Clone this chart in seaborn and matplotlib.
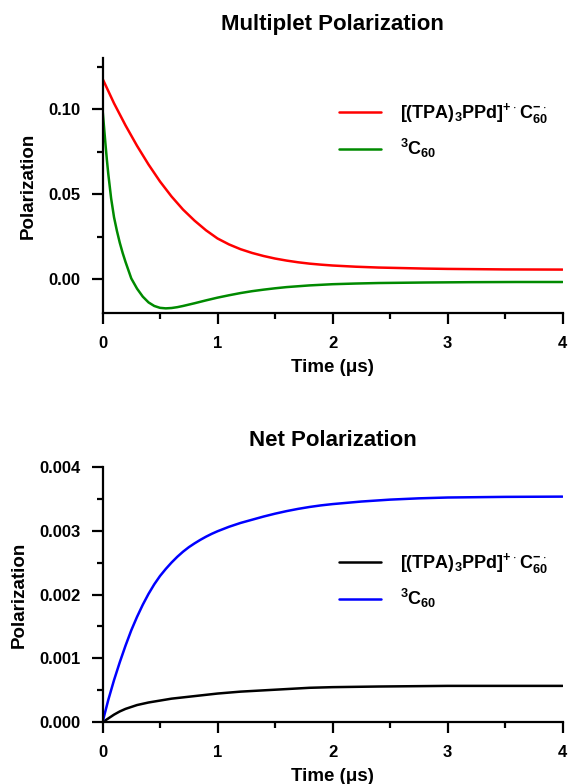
import numpy as np
import pandas as pd
import matplotlib
matplotlib.use('Agg')
import matplotlib.pyplot as plt
import seaborn as sns
from matplotlib.ticker import MultipleLocator, FormatStrFormatter

# Dati: polarizzazione multipletto
t_red = [0, 0.1, 0.2, 0.3, 0.4, 0.5, 0.6, 0.7, 0.8, 0.9, 1.0, 1.1, 1.2, 1.3, 1.4, 1.5, 1.6, 1.7, 1.8, 1.9,
         2.0, 2.2, 2.4, 2.6, 2.8, 3.0, 3.5, 4.0]
pol_red = [0.118, 0.1035, 0.0905, 0.0785, 0.0675, 0.0575, 0.0487, 0.0410, 0.0345, 0.0288, 0.0240, 0.0205,
           0.0177, 0.0155, 0.0137, 0.0122, 0.0110, 0.0100, 0.0092, 0.0086, 0.0081, 0.0074, 0.0069, 0.0066,
           0.0063, 0.0061, 0.0058, 0.0057]

t_green = [0, 0.0125, 0.025, 0.0375, 0.05, 0.075, 0.1, 0.125, 0.15, 0.175, 0.2, 0.25, 0.3, 0.35, 0.4, 0.45,
           0.5, 0.55, 0.6, 0.65, 0.7, 0.8, 0.9, 1.0, 1.1, 1.2, 1.3, 1.4, 1.5, 1.6, 1.8, 2.0, 2.2, 2.4, 2.8,
           3.2, 3.6, 4.0]
pol_green = [0.100, 0.090, 0.080, 0.0705, 0.062, 0.0475, 0.0365, 0.0285, 0.0215, 0.0155, 0.0102, 0.0005,
             -0.0055, -0.0102, -0.0136, -0.0157, -0.0168, -0.0171, -0.0169, -0.0164, -0.0157, -0.0141,
             -0.0124, -0.0108, -0.0094, -0.0081, -0.0070, -0.0061, -0.0053, -0.0046, -0.0036, -0.0029,
             -0.0025, -0.0022, -0.0019, -0.0017, -0.0016, -0.0016]

# Dati: polarizzazione netta
t_black = [0, 0.05, 0.1, 0.15, 0.2, 0.3, 0.4, 0.5, 0.6, 0.7, 0.8, 0.9, 1.0, 1.2, 1.4, 1.6, 1.8, 2.0, 2.4,
           3.0, 4.0]
pol_black = [0, 0.00006, 0.00012, 0.00017, 0.00021, 0.00027, 0.00031, 0.00034, 0.00037, 0.00039, 0.00041,
             0.00043, 0.00045, 0.00048, 0.00050, 0.00052, 0.00054, 0.00055, 0.00056, 0.00057, 0.00057]

t_blue = [0, 0.05, 0.1, 0.15, 0.2, 0.25, 0.3, 0.35, 0.4, 0.45, 0.5, 0.55, 0.6, 0.65, 0.7, 0.75, 0.8, 0.85,
          0.9, 0.95, 1.0, 1.1, 1.2, 1.3, 1.4, 1.5, 1.6, 1.7, 1.8, 1.9, 2.0, 2.25, 2.5, 2.75, 3.0, 3.5, 4.0]
pol_blue = [0, 0.00035, 0.00066, 0.00094, 0.00120, 0.00144, 0.00165, 0.00184, 0.00201, 0.00216, 0.00229,
            0.00240, 0.00250, 0.00259, 0.00267, 0.00274, 0.00280, 0.002855, 0.002905, 0.00295, 0.00299,
            0.00306, 0.00312, 0.00317, 0.00322, 0.003265, 0.003305, 0.00334, 0.00337, 0.003395, 0.003415,
            0.003455, 0.003485, 0.003505, 0.003518, 0.003528, 0.003532]

label_rp = r'[(TPA)$_3$PPd]$^{+\cdot}$C$_{60}^{-\cdot}$'
label_c60 = r'$^3$C$_{60}$'

sns.set_style('ticks')
plt.rcParams['font.family'] = ['Liberation Sans', 'DejaVu Sans']
plt.rcParams['font.weight'] = 'bold'
plt.rcParams['axes.labelweight'] = 'bold'
plt.rcParams['axes.titleweight'] = 'bold'
plt.rcParams['text.color'] = 'black'
plt.rcParams['axes.labelcolor'] = 'black'
plt.rcParams['axes.edgecolor'] = 'black'
plt.rcParams['xtick.color'] = 'black'
plt.rcParams['ytick.color'] = 'black'
plt.rcParams['mathtext.fontset'] = 'custom'
plt.rcParams['mathtext.rm'] = 'Liberation Sans:bold'
plt.rcParams['mathtext.bf'] = 'Liberation Sans:bold'
plt.rcParams['mathtext.default'] = 'bf'

fig = plt.figure(figsize=(5.68, 7.84), dpi=100)
ax1 = fig.add_axes([0.1805, 0.6004, 0.8099, 0.3253])
ax2 = fig.add_axes([0.1805, 0.0787, 0.8099, 0.3260])

# Grafico superiore
sns.lineplot(x=t_red, y=pol_red, color='#ff0000', lw=1.8, label=label_rp, ax=ax1)
sns.lineplot(x=t_green, y=pol_green, color='#008a00', lw=1.8, label=label_c60, ax=ax1)
ax1.set_ylim(-0.02, 0.13)
ax1.yaxis.set_major_locator(MultipleLocator(0.05))
ax1.yaxis.set_minor_locator(MultipleLocator(0.025))
ax1.yaxis.set_major_formatter(FormatStrFormatter('%.2f'))
ax1.set_title('Multiplet Polarization', fontsize=16, fontweight='bold', pad=20)

# Grafico inferiore
sns.lineplot(x=t_black, y=pol_black, color='black', lw=1.8, label=label_rp, ax=ax2)
sns.lineplot(x=t_blue, y=pol_blue, color='#0000ff', lw=1.8, label=label_c60, ax=ax2)
ax2.set_ylim(0, 0.004)
ax2.yaxis.set_major_locator(MultipleLocator(0.001))
ax2.yaxis.set_minor_locator(MultipleLocator(0.0005))
ax2.yaxis.set_major_formatter(FormatStrFormatter('%.3f'))
ax2.set_title('Net Polarization', fontsize=16, fontweight='bold', pad=15)

legend_y = {ax1: 0.717, ax2: 0.555}
for ax in (ax1, ax2):
    ax.set_xlim(0, 4)
    ax.xaxis.set_major_locator(MultipleLocator(1))
    ax.xaxis.set_minor_locator(MultipleLocator(0.5))
    ax.xaxis.set_major_formatter(FormatStrFormatter('%d'))
    ax.set_xlabel('Time (μs)', fontsize=13.5, fontweight='bold', labelpad=6)
    ax.set_ylabel('Polarization', fontsize=13.5, fontweight='bold', labelpad=8)
    sns.despine(ax=ax)
    for s in ('left', 'bottom'):
        ax.spines[s].set_linewidth(1.6)
    ax.tick_params(which='major', direction='out', length=8, width=1.6, pad=8, labelsize=12)
    ax.tick_params(which='minor', direction='out', length=4, width=1.6)
    for lab in ax.get_xticklabels() + ax.get_yticklabels():
        lab.set_fontweight('bold')
    ax.legend(loc='center left', bbox_to_anchor=(0.514, legend_y[ax]), frameon=False, fontsize=13,
              handlelength=2.3, handletextpad=1.1, labelspacing=0.6, borderpad=0, borderaxespad=0)

plt.savefig('out.png', dpi=100)
